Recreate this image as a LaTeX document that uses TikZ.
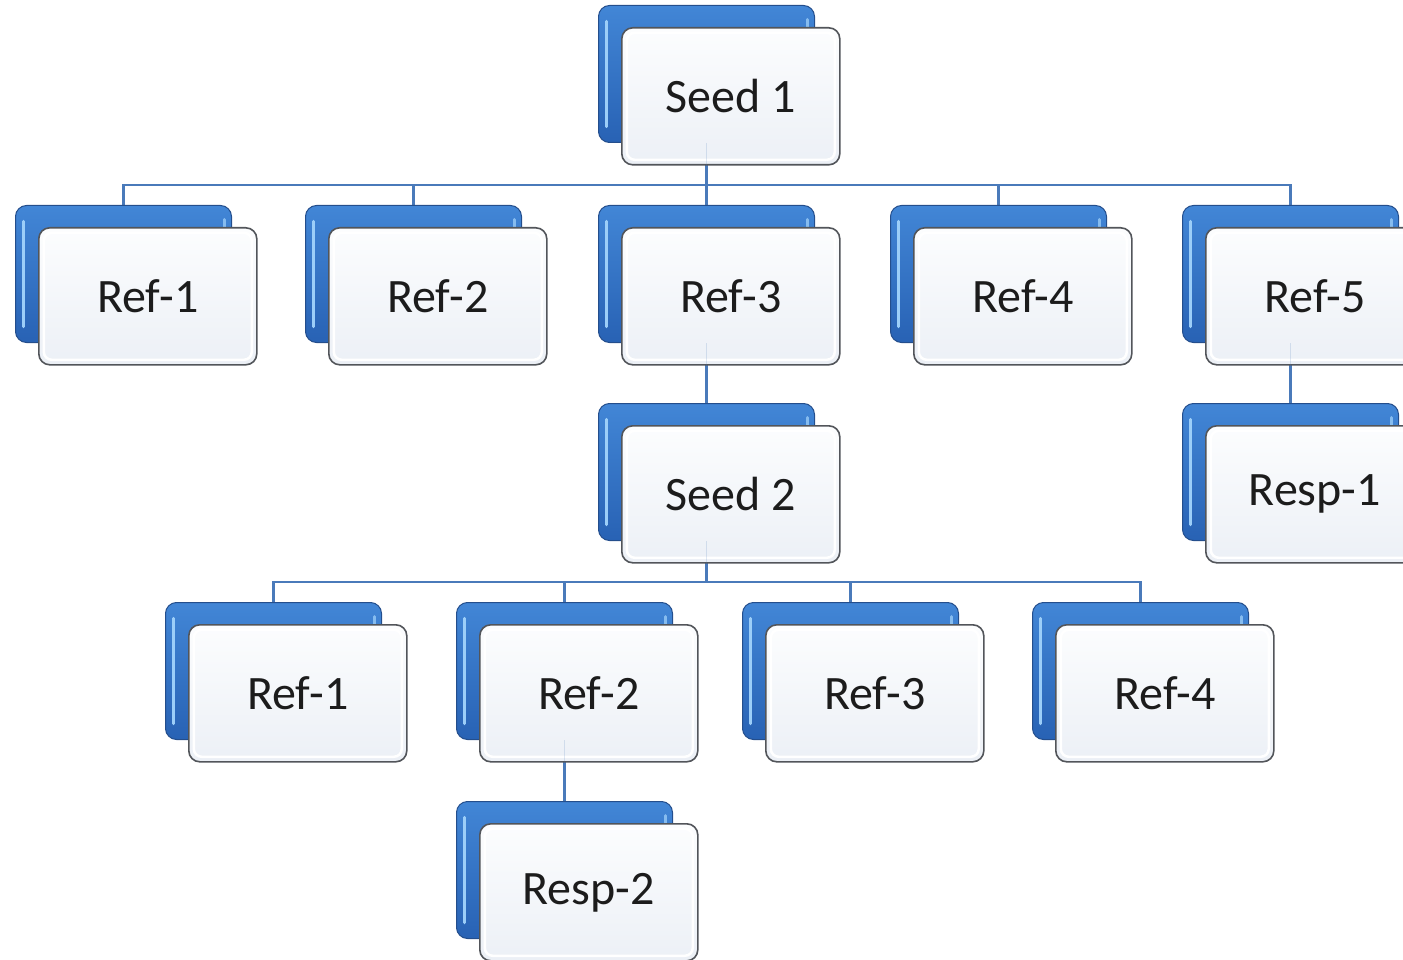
\documentclass[tikz,border=0pt]{standalone}
\usepackage{fontspec}
\setmainfont{Carlito}
\usetikzlibrary{calc}
\pgfdeclarelayer{bg}
\pgfdeclarelayer{fg}
\pgfsetlayers{bg,main,fg}

\definecolor{connblue}{RGB}{74,122,186}
\definecolor{cardtop}{RGB}{66,134,214}
\definecolor{cardbot}{RGB}{40,98,180}
\definecolor{cardedge}{RGB}{36,78,140}
\definecolor{cardhi}{RGB}{156,206,248}
\definecolor{paneledge}{RGB}{82,85,90}
\definecolor{paneltop}{RGB}{252,253,254}
\definecolor{panelbot}{RGB}{236,240,246}
\definecolor{inktext}{RGB}{28,28,28}

\tikzset{
  backcard/.style={
    rounded corners=11pt, draw=cardedge, line width=1pt,
    minimum width=216pt, minimum height=137pt, inner sep=0pt,
    top color=cardtop, bottom color=cardbot,
    path picture={
      \draw[cardhi, line width=3.5pt, line cap=round]
        ([shift={(8pt,-16pt)}]path picture bounding box.north west) --
        ([shift={(8pt,16pt)}]path picture bounding box.south west);
      \draw[cardhi!75!cardtop, line width=3pt, line cap=round]
        ([shift={(-7pt,-14pt)}]path picture bounding box.north east) --
        ([shift={(-7pt,16pt)}]path picture bounding box.south east);
    }},
  frontcard/.style={
    rounded corners=11pt, draw=paneledge, line width=1.6pt,
    minimum width=218pt, minimum height=137pt, inner sep=0pt,
    top color=paneltop, bottom color=panelbot, text=inktext,
    font=\fontsize{48}{56}\selectfont,
    path picture={
      \draw[white, line width=2.5pt, rounded corners=8pt]
        ([shift={(5pt,-5pt)}]path picture bounding box.north west) rectangle
        ([shift={(-5pt,5pt)}]path picture bounding box.south east);
    }},
  conn/.style={draw=connblue, line width=2.6pt},
  ghost/.style={draw=connblue, line width=1.6pt, opacity=0.18}
}

% one card: blue back plate with the labelled panel laid over it
\newcommand{\orgcard}[4]{%
  \node[backcard, anchor=north west] (back#1) at (#2,#3) {};
  \node[frontcard, anchor=north west] (#1) at ([shift={(23pt,-22pt)}]back#1.north west) {#4};
}

\begin{document}
\begin{tikzpicture}[x=1pt, y=-1pt]
\useasboundingbox (0,0) rectangle (1403,960);
\clip (0,0) rectangle (1403,960);

% top
\orgcard{s1}{598}{5}{Seed 1}
% first level
\orgcard{r1}{15}{205}{Ref-1}
\orgcard{r2}{305}{205}{Ref-2}
\orgcard{r3}{598}{205}{Ref-3}
\orgcard{r4}{890}{205}{Ref-4}
\orgcard{r5}{1182}{205}{Ref-5}
% second seed and its sibling response
\orgcard{s2}{598}{403}{Seed 2}
\orgcard{p1}{1182}{403}{Resp-1}
% second level
\orgcard{q1}{165}{602}{Ref-1}
\orgcard{q2}{456}{602}{Ref-2}
\orgcard{q3}{742}{602}{Ref-3}
\orgcard{q4}{1032}{602}{Ref-4}
\orgcard{p2}{456}{801}{Resp-2}

\begin{pgfonlayer}{bg}
  \coordinate (busA) at (0,185);
  \coordinate (busB) at (0,582);
  % Seed 1 to its references
  \draw[conn] (backs1.south) -- (backs1.south |- busA);
  \draw[conn] (backr1.north) -- (backr1.north |- busA) -- (backr5.north |- busA) -- (backr5.north);
  \foreach \n in {r2,r3,r4} \draw[conn] (back\n.north) -- (back\n.north |- busA);
  % chains below the first level
  \draw[conn] (backr3.south) -- (backs2.north);
  \draw[conn] (backr5.south) -- (backp1.north);
  % Seed 2 to its references
  \draw[conn] (backs2.south) -- (backs2.south |- busB);
  \draw[conn] (backq1.north) -- (backq1.north |- busB) -- (backq4.north |- busB) -- (backq4.north);
  \foreach \n in {q2,q3} \draw[conn] (back\n.north) -- (back\n.north |- busB);
  \draw[conn] (backq2.south) -- (backp2.north);
\end{pgfonlayer}

% the parent lines show faintly through the lower part of each panel
\begin{pgfonlayer}{fg}
  \foreach \n in {s1,r3,r5,s2,q2}
    \draw[ghost] (back\n.south) -- (back\n.south |- \n.south);
\end{pgfonlayer}
\end{tikzpicture}
\end{document}
